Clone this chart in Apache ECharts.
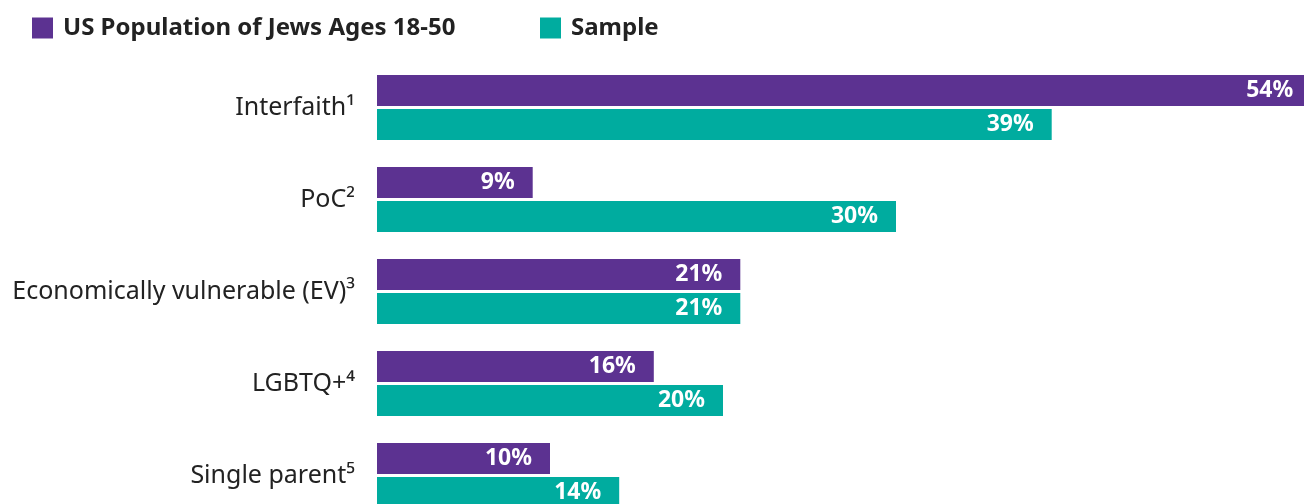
<!DOCTYPE html>
<html>
<head>
<meta charset="utf-8">
<script src="https://cdn.jsdelivr.net/npm/echarts@6/dist/echarts.min.js"></script>
<style>
  html, body { margin: 0; padding: 0; background: #fff; }
  #chart { width: 1304px; height: 504px; }
</style>
</head>
<body>
<div id="chart"></div>
<script>
const categories = ['Interfaith¹', 'PoC²', 'Economically vulnerable (EV)³', 'LGBTQ+⁴', 'Single parent⁵'];
const usPopulation = [54, 9, 21, 16, 10];
const sample = [39, 30, 21, 20, 14];

const chart = echarts.init(document.getElementById('chart'), null, { renderer: 'canvas' });

const font = '"Noto Sans", sans-serif';
const labelStyle = {
  show: true,
  position: 'insideRight',
  distance: 18,
  color: '#fff',
  fontFamily: font,
  fontWeight: 'bold',
  fontSize: 23,
  formatter: '{c}%'
};
const legendText = {
  fontFamily: font,
  fontWeight: 'bold',
  fontSize: 24,
  color: '#222',
  padding: [0, 0, 0, 5]
};

chart.setOption({
  animation: false,
  color: ['#5c3291', '#00ac9f'],
  legend: [
    {
      left: 32,
      top: 16,
      padding: 0,
      itemWidth: 21,
      itemHeight: 21,
      icon: 'rect',
      data: ['US Population of Jews Ages 18-50'],
      textStyle: legendText
    },
    {
      left: 540,
      top: 16,
      padding: 0,
      itemWidth: 21,
      itemHeight: 21,
      icon: 'rect',
      data: ['Sample'],
      textStyle: legendText
    }
  ],
  grid: {
    left: 377,
    top: 61.5,
    width: 1038,
    height: 460,
    outerBoundsMode: 'none',
    containLabel: false
  },
  xAxis: {
    type: 'value',
    min: 0,
    max: 60,
    show: false
  },
  yAxis: {
    type: 'category',
    inverse: true,
    data: categories,
    axisLine: { show: false },
    axisTick: { show: false },
    axisLabel: {
      margin: 22,
      color: '#222',
      fontFamily: font,
      fontSize: 25
    }
  },
  series: [
    {
      name: 'US Population of Jews Ages 18-50',
      type: 'bar',
      data: usPopulation,
      barWidth: 31,
      barGap: '10%',
      label: labelStyle
    },
    {
      name: 'Sample',
      type: 'bar',
      data: sample,
      barWidth: 31,
      barGap: '10%',
      label: labelStyle
    }
  ]
});
</script>
</body>
</html>
